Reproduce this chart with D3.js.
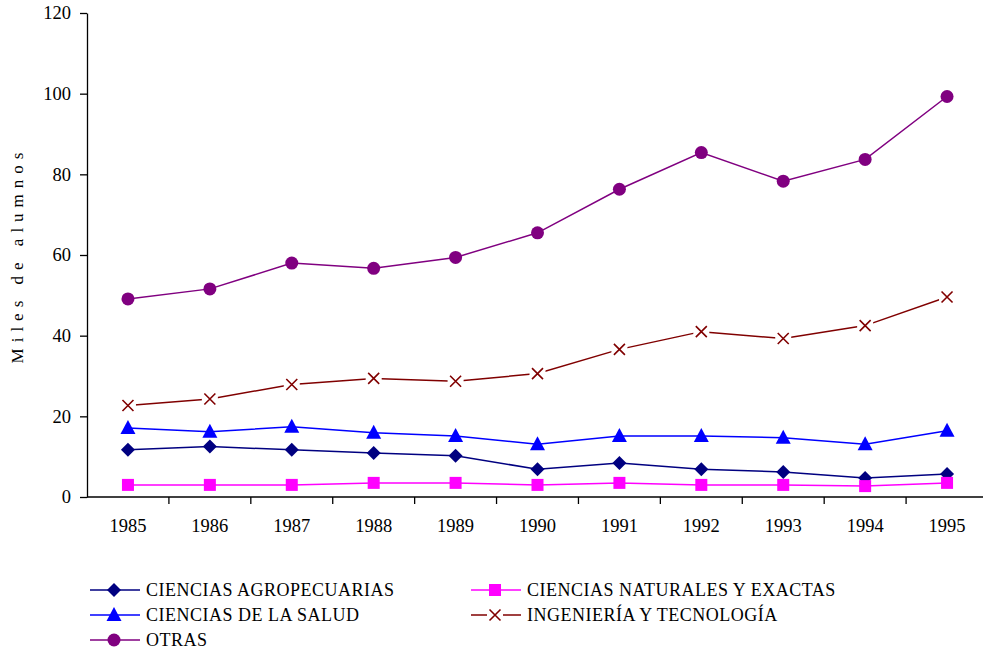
<!DOCTYPE html>
<html>
<head>
  <meta charset="utf-8">
  <script src="https://d3js.org/d3.v7.min.js"></script>
</head>
<body style="margin:0">
  <svg id="chart" width="983" height="651"></svg>
  <script>
    // Data
    const years = ["1985","1986","1987","1988","1989","1990","1991","1992","1993","1994","1995"];
    const agropecuarias = [11.7, 12.5, 11.7, 10.9, 10.2, 6.9, 8.4, 6.9, 6.2, 4.7, 5.7];
    const naturales = [3.0, 3.0, 3.0, 3.5, 3.5, 3.0, 3.5, 3.0, 3.0, 2.7, 3.5];
    const salud = [17.1, 16.2, 17.4, 15.9, 15.1, 13.1, 15.1, 15.1, 14.7, 13.1, 16.4];
    const ingenieria = [22.7, 24.3, 27.9, 29.4, 28.7, 30.6, 36.6, 41.0, 39.3, 42.5, 49.6];
    const otras = [49.1, 51.6, 58.0, 56.7, 59.4, 65.5, 76.3, 85.4, 78.3, 83.7, 99.3];
    const yTicks = [0, 20, 40, 60, 80, 100, 120];

    const series = [
      { name: "CIENCIAS AGROPECUARIAS", values: agropecuarias, color: "#000080", marker: "diamond" },
      { name: "CIENCIAS NATURALES Y EXACTAS", values: naturales, color: "#FF00FF", marker: "square" },
      { name: "CIENCIAS DE LA SALUD", values: salud, color: "#0000FF", marker: "triangle" },
      { name: "INGENIERÍA Y TECNOLOGÍA", values: ingenieria, color: "#800000", marker: "cross" },
      { name: "OTRAS", values: otras, color: "#800080", marker: "circle" }
    ];

    const serif = "\"Liberation Serif\", monospace";
    const svg = d3.select("#chart");

    const x = d3.scaleBand().domain(years).range([87, 988]);
    const y = d3.scaleLinear().domain([0, 120]).range([497, 13]);

    // x axis: labels centred in bands, ticks between categories
    const xAxis = svg.append("g")
      .attr("transform", "translate(0,497)")
      .call(d3.axisBottom(x).tickSize(0).tickPadding(22));
    xAxis.selectAll("text").style("font-family", serif).style("font-size", "18.5px").attr("fill", "#000");
    xAxis.selectAll(".sep")
      .data(years)
      .enter().append("line")
      .attr("x1", (d, i) => x.range()[0] + x.step() * (i + 1))
      .attr("x2", (d, i) => x.range()[0] + x.step() * (i + 1))
      .attr("y1", 0).attr("y2", 7)
      .attr("stroke", "#000").attr("stroke-width", 1.3);
    xAxis.select(".domain").attr("d", "M87,0H988").attr("stroke", "#000").attr("stroke-width", 1.3);

    // y axis
    const yAxis = svg.append("g")
      .attr("transform", "translate(87,0)")
      .call(d3.axisLeft(y).tickValues(yTicks).tickSize(7).tickSizeOuter(0).tickPadding(9));
    yAxis.selectAll("text").style("font-family", serif).style("font-size", "18.5px").attr("fill", "#000");
    yAxis.selectAll("line").attr("stroke", "#000").attr("stroke-width", 1.3);
    yAxis.select(".domain").attr("stroke", "#000").attr("stroke-width", 1.3);

    svg.append("text")
      .attr("transform", "translate(23,255) rotate(-90)")
      .attr("text-anchor", "middle")
      .style("font-family", serif)
      .style("font-size", "17px")
      .style("letter-spacing", "6px")
      .text("Miles de alumnos");

    const line = d3.line()
      .x((d, i) => x(years[i]) + x.bandwidth() / 2)
      .y(d => y(d));

    function drawMarker(g, type, color) {
      if (type === "diamond") {
        g.append("path").attr("d", "M0,-7L7,0L0,7L-7,0Z").attr("fill", color);
      } else if (type === "square") {
        g.append("rect").attr("x", -6).attr("y", -6).attr("width", 12).attr("height", 12).attr("fill", color);
      } else if (type === "triangle") {
        g.append("path").attr("d", "M0,-8L7.5,6L-7.5,6Z").attr("fill", color);
      } else if (type === "circle") {
        g.append("circle").attr("r", 6.5).attr("fill", color);
      } else if (type === "cross") {
        g.append("rect").attr("x", -8).attr("y", -8).attr("width", 16).attr("height", 16).attr("fill", "#fff");
        g.append("path").attr("d", "M-5.5,-5.5L5.5,5.5M-5.5,5.5L5.5,-5.5")
          .attr("stroke", color).attr("stroke-width", 1.6).attr("fill", "none");
      }
    }

    series.forEach(s => {
      svg.append("path")
        .datum(s.values)
        .attr("fill", "none")
        .attr("stroke", s.color)
        .attr("stroke-width", 1.5)
        .attr("d", line);
    });
    series.forEach(s => {
      s.values.forEach((v, i) => {
        const g = svg.append("g")
          .attr("transform", `translate(${x(years[i]) + x.bandwidth() / 2},${y(v)})`);
        drawMarker(g, s.marker, s.color);
      });
    });

    // Legend
    const legendPos = [
      { x: 90, y: 590 }, { x: 471, y: 590 },
      { x: 90, y: 615 }, { x: 471, y: 615 },
      { x: 90, y: 640 }
    ];
    series.forEach((s, i) => {
      const p = legendPos[i];
      const g = svg.append("g").attr("transform", `translate(${p.x},${p.y})`);
      g.append("line").attr("x1", 0).attr("x2", 50).attr("y1", 0).attr("y2", 0)
        .attr("stroke", s.color).attr("stroke-width", 1.5);
      const m = g.append("g").attr("transform", "translate(24,0)");
      drawMarker(m, s.marker, s.color);
      g.append("text")
        .attr("x", 56).attr("y", 0).attr("dy", "0.35em")
        .style("font-family", serif)
        .style("font-size", "18px")
        .style("letter-spacing", "0.5px")
        .text(s.name);
    });
  </script>
</body>
</html>
